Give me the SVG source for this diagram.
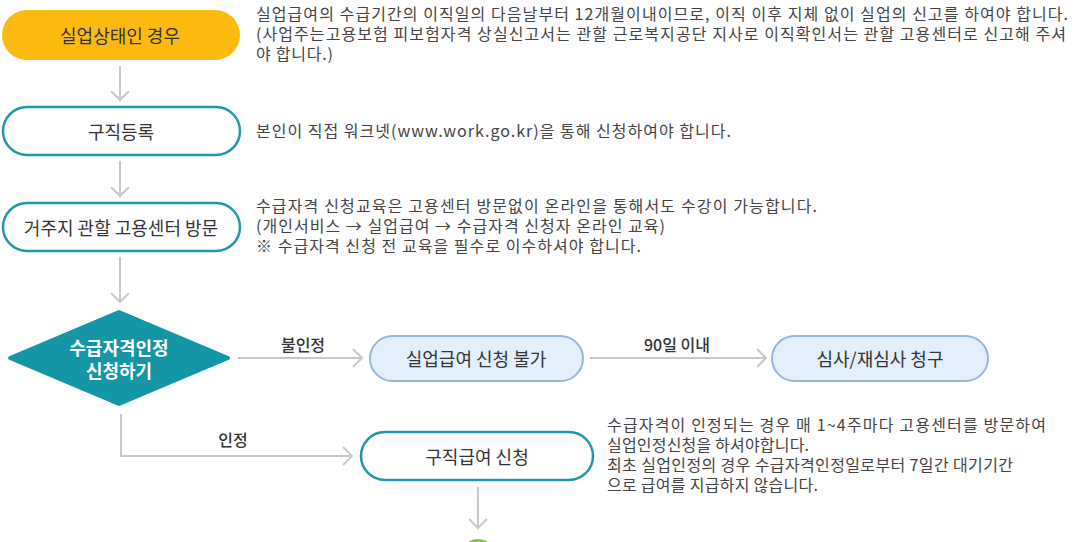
<svg xmlns="http://www.w3.org/2000/svg" width="1076" height="542" viewBox="0 0 1076 542">
<style>
.body{font-family:"Noto Sans CJK KR","Noto Sans",sans-serif;font-size:16px;fill:#444;}
.pt{font-family:"Noto Sans CJK KR","Noto Sans",sans-serif;font-size:18px;fill:#333;text-anchor:middle;dominant-baseline:central;font-weight:400;}
.dt{font-family:"Noto Sans CJK KR","Noto Sans",sans-serif;font-size:18px;fill:#fff;text-anchor:middle;dominant-baseline:central;font-weight:700;}
.lbl{font-family:"Noto Sans CJK KR","Noto Sans",sans-serif;font-size:16px;fill:#333;text-anchor:middle;font-weight:500;}
.teal{fill:#fff;stroke:#1f98a9;stroke-width:2.5;}
.blue{fill:#e3effa;stroke:#97b5d8;stroke-width:2;}
.conn{fill:none;stroke:#c8c8c8;stroke-width:2;}
</style>
<defs>
<marker id="arr" viewBox="0 0 12 20" refX="10" refY="10" markerWidth="12" markerHeight="20" orient="auto" markerUnits="userSpaceOnUse">
<path d="M1,1 L10,10 L1,19" fill="none" stroke="#c8c8c8" stroke-width="2"/>
</marker>
</defs>
<rect width="1076" height="542" fill="#fff"/>

<g id="connectors">
<line class="conn" x1="120" y1="66" x2="120" y2="100" marker-end="url(#arr)"/>
<line class="conn" x1="120" y1="161" x2="120" y2="196" marker-end="url(#arr)"/>
<line class="conn" x1="120" y1="257" x2="120" y2="302" marker-end="url(#arr)"/>
<line class="conn" x1="238" y1="358" x2="362" y2="358" marker-end="url(#arr)"/>
<text class="lbl" x="303" y="351">불인정</text>
<line class="conn" x1="590" y1="358" x2="766" y2="358" marker-end="url(#arr)"/>
<text class="lbl" x="677" y="351">90일 이내</text>
<path class="conn" d="M121,414 L121,456 L352,456" marker-end="url(#arr)"/>
<text class="lbl" x="233" y="446">인정</text>
<line class="conn" x1="478" y1="487" x2="478" y2="528" marker-end="url(#arr)"/>
</g>

<g id="n1">
<rect x="2" y="10" width="238" height="50" rx="25" fill="#fcba10"/>
<text class="pt" x="120" y="35">실업상태인 경우</text>
</g>
<g id="n2">
<rect class="teal" x="3" y="107" width="237" height="48" rx="24"/>
<text class="pt" x="121" y="131">구직등록</text>
</g>
<g id="n3">
<rect class="teal" x="3" y="203" width="237" height="48" rx="24"/>
<text class="pt" x="121" y="227">거주지 관할 고용센터 방문</text>
</g>
<g id="n4">
<polygon points="10,358 119,312 228,358 119,404" fill="#1496a6" stroke="#1496a6" stroke-width="4" stroke-linejoin="round"/>
<text class="dt" x="119" y="347">수급자격인정</text>
<text class="dt" x="119" y="370">신청하기</text>
</g>
<g id="n5">
<rect class="blue" x="370" y="336" width="213" height="45" rx="22.5"/>
<text class="pt" x="476" y="358">실업급여 신청 불가</text>
</g>
<g id="n6">
<rect class="blue" x="772" y="336" width="216" height="45" rx="22.5"/>
<text class="pt" x="880" y="358">심사/재심사 청구</text>
</g>
<g id="n7">
<rect class="teal" x="361" y="432" width="232" height="48" rx="24"/>
<text class="pt" x="477" y="456">구직급여 신청</text>
</g>
<g id="n8">
<circle cx="478" cy="557" r="18" fill="#8cc63f"/>
</g>

<g id="notes">
<text class="body" x="256" y="20" textLength="812">실업급여의 수급기간의 이직일의 다음날부터 12개월이내이므로, 이직 이후 지체 없이 실업의 신고를 하여야 합니다.</text>
<text class="body" x="256" y="40" textLength="810">(사업주는고용보험 피보험자격 상실신고서는 관할 근로복지공단 지사로 이직확인서는 관할 고용센터로 신고해 주셔</text>
<text class="body" x="256" y="60" textLength="77">야 합니다.)</text>
<text class="body" x="256" y="137" textLength="475">본인이 직접 워크넷(www.work.go.kr)을 통해 신청하여야 합니다.</text>
<text class="body" x="256" y="212" textLength="561">수급자격 신청교육은 고용센터 방문없이 온라인을 통해서도 수강이 가능합니다.</text>
<text class="body" x="256" y="232" textLength="409">(개인서비스 → 실업급여 → 수급자격 신청자 온라인 교육)</text>
<text class="body" x="256" y="252" textLength="385">※ 수급자격 신청 전 교육을 필수로 이수하셔야 합니다.</text>
<text class="body" x="607" y="431" textLength="439">수급자격이 인정되는 경우 매 1~4주마다 고용센터를 방문하여</text>
<text class="body" x="607" y="451" textLength="202">실업인정신청을 하셔야합니다.</text>
<text class="body" x="607" y="471" textLength="406">최초 실업인정의 경우 수급자격인정일로부터 7일간 대기기간</text>
<text class="body" x="607" y="491" textLength="211">으로 급여를 지급하지 않습니다.</text>
</g>
</svg>
